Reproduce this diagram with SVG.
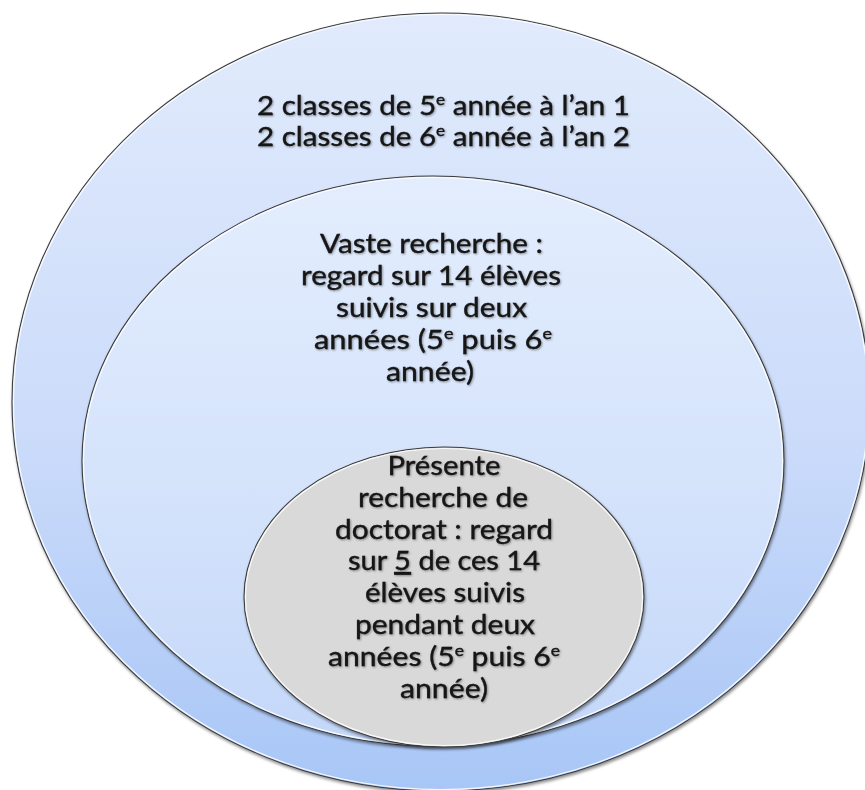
<svg xmlns="http://www.w3.org/2000/svg" width="865" height="790" viewBox="0 0 865 790">
  <defs>
    <linearGradient id="gradOuter" x1="0" y1="0" x2="0" y2="1">
      <stop offset="0" stop-color="#e1ebfc"/>
      <stop offset="0.55" stop-color="#cbdbfa"/>
      <stop offset="1" stop-color="#a8c6f6"/>
    </linearGradient>
    <linearGradient id="gradMiddle" x1="0" y1="0" x2="0" y2="1">
      <stop offset="0" stop-color="#e3edfd"/>
      <stop offset="0.6" stop-color="#d3e2fb"/>
      <stop offset="1" stop-color="#c3d7f9"/>
    </linearGradient>
    <filter id="shapeShadow" x="-10%" y="-10%" width="120%" height="120%">
      <feDropShadow dx="1" dy="2" stdDeviation="1.6" flood-color="#000" flood-opacity="0.45"/>
    </filter>
    <filter id="textShadow" x="-10%" y="-30%" width="120%" height="160%">
      <feGaussianBlur in="SourceAlpha" stdDeviation="1.3" result="blur"/>
      <feOffset in="blur" dx="0.6" dy="0.8" result="off"/>
      <feComponentTransfer in="off" result="soft">
        <feFuncA type="linear" slope="0.4"/>
      </feComponentTransfer>
      <feMerge>
        <feMergeNode in="soft"/>
        <feMergeNode in="SourceGraphic"/>
      </feMerge>
    </filter>
  </defs>
  <style>
    .edge { stroke: #3c3c3c; stroke-width: 1.1; }
    .shine { fill: none; stroke: #ffffff; stroke-width: 1.2; stroke-opacity: 0.85; }
    .label { font-family: Lato, "Liberation Sans", sans-serif; font-size: 27.5px; fill: #141414; stroke: #141414; stroke-width: 0.35; text-anchor: middle; }
    .sup { font-size: 16px; }
  </style>

  <rect width="865" height="790" fill="#ffffff"/>

  <!-- outermost ring: the two classes -->
  <g id="node-classes">
    <ellipse cx="441" cy="402" rx="429" ry="389" fill="url(#gradOuter)" class="edge" filter="url(#shapeShadow)"/>
    <ellipse cx="441" cy="402" rx="427.5" ry="387.5" class="shine"/>
    <g filter="url(#textShadow)">
      <text class="label" x="443.5" y="115" textLength="373" lengthAdjust="spacingAndGlyphs">2 classes de 5<tspan class="sup" dy="-10">e</tspan><tspan dy="10"> année à l’an 1</tspan></text>
      <text class="label" x="443.5" y="146" textLength="373" lengthAdjust="spacingAndGlyphs">2 classes de 6<tspan class="sup" dy="-10">e</tspan><tspan dy="10"> année à l’an 2</tspan></text>
    </g>
  </g>

  <!-- middle ring: the wider study -->
  <g id="node-vaste-recherche">
    <ellipse cx="433" cy="461" rx="351" ry="285" fill="url(#gradMiddle)" class="edge" filter="url(#shapeShadow)"/>
    <ellipse cx="433" cy="461" rx="349.5" ry="283.5" class="shine"/>
    <g filter="url(#textShadow)">
      <text class="label" x="431.5" y="253" textLength="223" lengthAdjust="spacingAndGlyphs">Vaste recherche :</text>
      <text class="label" x="431" y="285" textLength="260" lengthAdjust="spacingAndGlyphs">regard sur 14 élèves</text>
      <text class="label" x="431.5" y="317" textLength="191" lengthAdjust="spacingAndGlyphs">suivis sur deux</text>
      <text class="label" x="433" y="349" textLength="238" lengthAdjust="spacingAndGlyphs">années (5<tspan class="sup" dy="-10">e</tspan><tspan dy="10"> puis 6</tspan><tspan class="sup" dy="-10">e</tspan></text>
      <text class="label" x="430" y="381" textLength="88" lengthAdjust="spacingAndGlyphs">année)</text>
    </g>
  </g>

  <!-- inner disc: the present doctoral study -->
  <g id="node-presente-recherche">
    <ellipse cx="444" cy="597" rx="200" ry="150" fill="#d9d9d9" class="edge" filter="url(#shapeShadow)"/>
    <ellipse cx="444" cy="597" rx="198.5" ry="148.5" class="shine"/>
    <g filter="url(#textShadow)">
      <text class="label" x="444" y="475" textLength="113" lengthAdjust="spacingAndGlyphs">Présente</text>
      <text class="label" x="443" y="507" textLength="170" lengthAdjust="spacingAndGlyphs">recherche de</text>
      <text class="label" x="444" y="539" textLength="218" lengthAdjust="spacingAndGlyphs">doctorat : regard</text>
      <text class="label" x="444" y="570" textLength="192" lengthAdjust="spacingAndGlyphs">sur <tspan text-decoration="underline">5</tspan> de ces 14</text>
      <text class="label" x="445" y="602" textLength="160" lengthAdjust="spacingAndGlyphs">élèves suivis</text>
      <text class="label" x="445" y="634" textLength="180" lengthAdjust="spacingAndGlyphs">pendant deux</text>
      <text class="label" x="444" y="666" textLength="232" lengthAdjust="spacingAndGlyphs">années (5<tspan class="sup" dy="-10">e</tspan><tspan dy="10"> puis 6</tspan><tspan class="sup" dy="-10">e</tspan></text>
      <text class="label" x="444" y="698" textLength="88" lengthAdjust="spacingAndGlyphs">année)</text>
    </g>
  </g>

  <g id="connectors"/>
</svg>
